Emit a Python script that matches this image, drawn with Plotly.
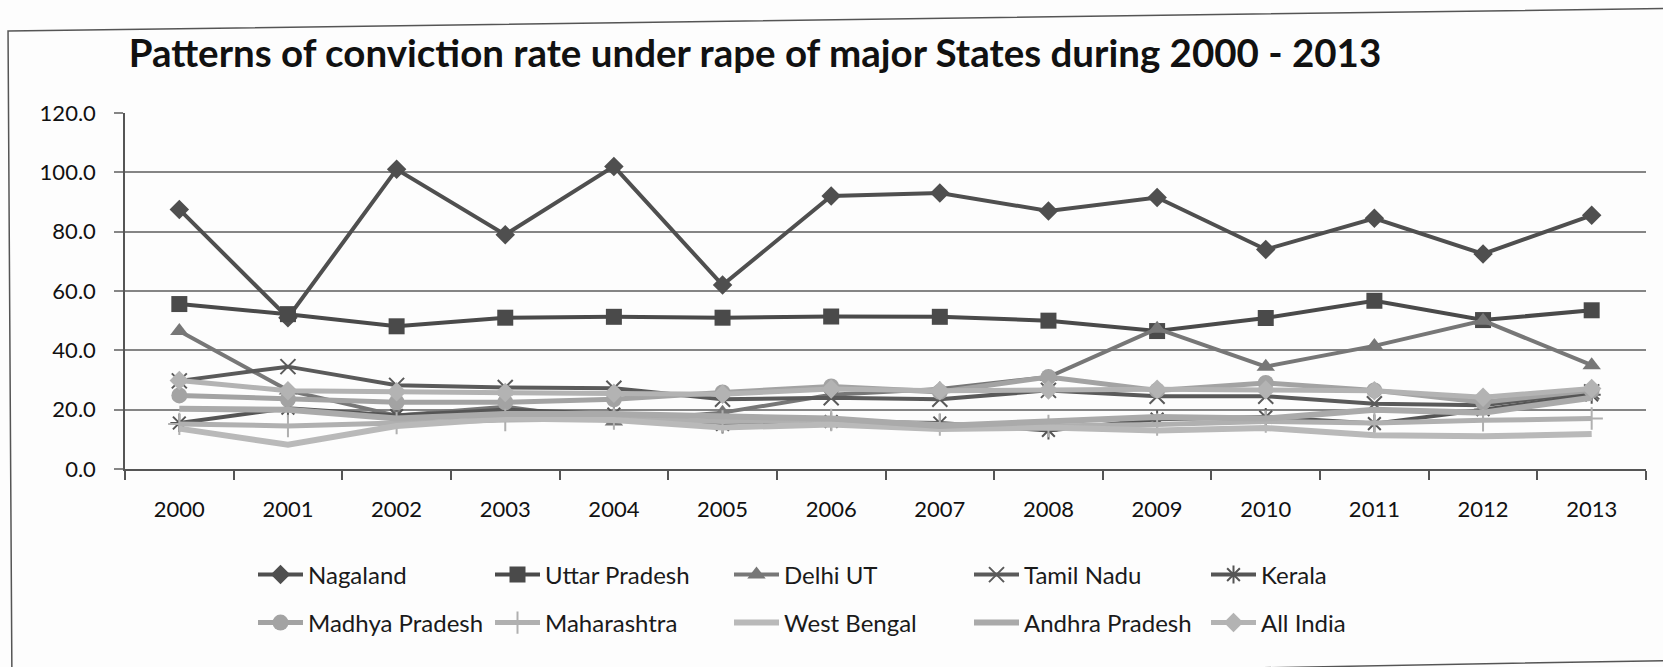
import plotly.graph_objects as go

years = ["2000", "2001", "2002", "2003", "2004", "2005", "2006",
         "2007", "2008", "2009", "2010", "2011", "2012", "2013"]

nagaland = [87.5, 51.0, 101.0, 79.0, 102.0, 62.0, 92.0, 93.0, 87.0, 91.5, 74.0, 84.5, 72.5, 85.5]
uttar_pradesh = [55.6, 52.2, 48.1, 51.0, 51.3, 51.0, 51.4, 51.3, 50.0, 46.5, 50.9, 56.7, 50.2, 53.5]
delhi = [46.5, 26.5, 18.0, 21.0, 16.0, 19.0, 25.0, 27.0, 31.0, 47.3, 34.5, 41.5, 50.0, 35.0]
tamil_nadu = [29.7, 34.5, 28.2, 27.5, 27.2, 23.5, 24.0, 23.5, 26.5, 24.5, 24.5, 22.0, 21.5, 26.0]
kerala = [15.5, 20.5, 18.0, 20.0, 18.5, 15.0, 16.0, 15.5, 13.0, 16.8, 17.5, 15.3, 20.0, 25.0]
madhya_pradesh = [24.8, 23.5, 22.5, 22.5, 23.5, 25.8, 27.8, 26.0, 31.0, 26.5, 29.0, 26.5, 22.5, 26.5]
maharashtra = [15.2, 14.5, 15.5, 16.5, 17.0, 16.0, 16.5, 15.0, 14.5, 15.0, 16.0, 15.5, 16.4, 17.0]
west_bengal = [13.6, 8.2, 14.5, 17.0, 16.5, 14.0, 15.0, 13.5, 14.0, 13.0, 13.8, 11.4, 11.0, 11.8]
andhra_pradesh = [20.3, 20.0, 17.0, 18.5, 18.5, 17.5, 17.0, 14.5, 16.0, 17.5, 17.0, 20.0, 19.0, 24.0]
all_india = [29.8, 26.4, 26.0, 25.8, 25.5, 25.2, 27.0, 26.4, 26.6, 26.9, 26.6, 26.4, 24.2, 27.1]

y_ticks = [0, 20, 40, 60, 80, 100, 120]

FONT = "Lato"
W, H = 1663, 667
ML, MR, MT, MB = 125, 17, 113, 198
PW, PH = W - ML - MR, H - MT - MB

series = [
    ("Nagaland", nagaland, "#4f4f4f", 4, dict(symbol="diamond", size=15)),
    ("Uttar Pradesh", uttar_pradesh, "#4a4a4a", 4, dict(symbol="square", size=16)),
    ("Delhi UT", delhi, "#777777", 4, dict(symbol="triangle-up", size=16)),
    ("Tamil Nadu", tamil_nadu, "#5a5a5a", 4,
     dict(symbol="x-thin-open", size=15, line=dict(width=2, color="#5a5a5a"))),
    ("Kerala", kerala, "#555555", 4,
     dict(symbol="asterisk-open", size=15, line=dict(width=2, color="#555555"))),
    ("Madhya Pradesh", madhya_pradesh, "#a3a3a3", 5, dict(symbol="circle", size=16)),
    ("Maharashtra", maharashtra, "#b0b0b0", 5,
     dict(symbol="cross-thin-open", size=16, line=dict(width=2, color="#a8a8a8"))),
    ("West Bengal", west_bengal, "#b9b9b9", 6, None),
    ("Andhra Pradesh", andhra_pradesh, "#aaaaaa", 6, None),
    ("All India", all_india, "#b3b3b3", 5, dict(symbol="diamond", size=15)),
]

# legend slot positions (pixels): symbol start x, row centre y
legend_cols = [258, 495, 734, 974, 1211]
legend_rows = [575, 623]


def px2paper(px, py):
    return (px - ML) / PW, 1 - (py - MT) / PH


fig = go.Figure()
layout_legends = {}
for i, (name, vals, color, lw, marker) in enumerate(series):
    leg_id = "legend" if i == 0 else f"legend{i + 1}"
    mode = "lines+markers" if marker else "lines"
    kw = {}
    if marker:
        m = dict(marker)
        m.setdefault("color", color)
        kw["marker"] = m
    fig.add_trace(go.Scatter(x=years, y=vals, name=name, mode=mode, showlegend=True,
                             line=dict(color=color, width=lw), legend=leg_id, **kw))
    lx, _ = px2paper(legend_cols[i % 5] - 5, 0)
    _, ly = px2paper(0, legend_rows[i // 5])
    layout_legends[leg_id] = dict(
        x=lx, y=ly, xanchor="left", yanchor="middle", orientation="h",
        font=dict(family=FONT, size=24, color="#1a1a1a"),
        bgcolor="rgba(0,0,0,0)", borderwidth=0, itemwidth=45, visible=True)

# chart-area border (slightly skewed like the scanned original)
pts = [px2paper(8, 31), px2paper(1700, 8), px2paper(1700, 660), px2paper(12, 690)]
path = "M " + " L ".join(f"{x:.4f},{y:.4f}" for x, y in pts) + " Z"
fig.add_shape(type="path", path=path, xref="paper", yref="paper",
              line=dict(color="#555555", width=1.5), layer="below")

fig.update_layout(
    width=W, height=H, showlegend=True,
    margin=dict(l=ML, r=MR, t=MT, b=MB, pad=0, autoexpand=False),
    paper_bgcolor="#fdfdfd", plot_bgcolor="#fdfdfd",
    title=dict(text="<b>Patterns of conviction rate under rape of major States during 2000 - 2013</b>",
               font=dict(family=FONT, size=38.5, color="#111111"),
               x=755 / W, xanchor="center", y=1 - 54 / H, yanchor="middle"),
    font=dict(family=FONT, color="#111111"),
    xaxis=dict(type="category", range=[-0.5, 13.5], showgrid=False,
               showline=True, linecolor="#555555", linewidth=1.5,
               ticks="outside", tickson="boundaries", ticklen=9, tickcolor="#555555",
               tickwidth=1.5, tickfont=dict(family=FONT, size=22, color="#111111"),
               ticklabelstandoff=20, automargin=False),
    yaxis=dict(range=[0, 120], tickvals=y_ticks, tickformat=".1f",
               showgrid=True, gridcolor="#858585", gridwidth=1.5,
               showline=True, linecolor="#555555", linewidth=1.5,
               ticks="outside", ticklen=9, tickcolor="#858585", tickwidth=1.5,
               tickfont=dict(family=FONT, size=22, color="#111111"),
               ticklabelstandoff=14, zeroline=False, automargin=False),
    **layout_legends,
)

fig.write_html("out.html")
